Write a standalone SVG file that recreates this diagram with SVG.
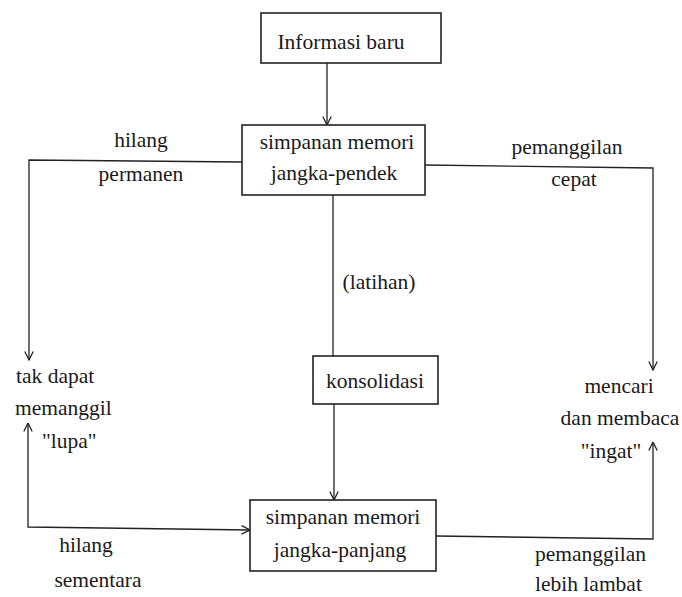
<svg xmlns="http://www.w3.org/2000/svg" width="682" height="597" viewBox="0 0 682 597">
<style>
.t{font-size:21.5px;fill:#1a1a1a}
.c{text-anchor:middle}
.box{fill:#fff;stroke:#222;stroke-width:1.6}
.ln{fill:none;stroke:#222;stroke-width:1.3}
</style>
<defs>
<marker id="arr" viewBox="0 0 10 10" refX="9.5" refY="5" markerWidth="10" markerHeight="10" markerUnits="userSpaceOnUse" orient="auto-start-reverse">
<path d="M1,0.8 L9.5,5 L1,9.2" fill="none" stroke="#222" stroke-width="1.3"/>
</marker>
</defs>
<rect width="682" height="597" fill="#fff"/>
<g id="connectors">
<line class="ln" x1="327" y1="63" x2="327" y2="125" marker-end="url(#arr)"/>
<polyline class="ln" points="242,162 29,160 29,360" marker-end="url(#arr)"/>
<polyline class="ln" points="425,165 653,168 653,370" marker-end="url(#arr)"/>
<line class="ln" x1="333" y1="195" x2="333" y2="356"/>
<line class="ln" x1="334" y1="404" x2="334" y2="500" marker-end="url(#arr)"/>
<polyline class="ln" points="28,423 28,527 250,530" marker-start="url(#arr)" marker-end="url(#arr)"/>
<polyline class="ln" points="436,536 653,539 653,442" marker-end="url(#arr)"/>
</g>
<g font-family="Liberation Serif, DejaVu Serif, serif">
<g id="informasi-baru">
<rect class="box" x="261" y="13" width="180" height="50"/>
<text class="t c" x="341" y="49">Informasi baru</text>
</g>
<g id="stm">
<rect class="box" x="242" y="125" width="183" height="70"/>
<text class="t c" x="337" y="149">simpanan memori</text>
<text class="t c" x="334" y="180">jangka-pendek</text>
</g>
<g id="konsolidasi">
<rect class="box" x="313" y="356" width="125" height="48"/>
<text class="t c" x="375" y="388">konsolidasi</text>
</g>
<g id="ltm">
<rect class="box" x="250" y="500" width="186" height="71"/>
<text class="t c" x="343" y="524">simpanan memori</text>
<text class="t c" x="340" y="557">jangka-panjang</text>
</g>
<g id="lupa">
<text class="t" x="16" y="383">tak dapat</text>
<text class="t" x="15" y="415">memanggil</text>
<text class="t" x="42" y="448">"lupa"</text>
</g>
<g id="ingat">
<text class="t c" x="619" y="393">mencari</text>
<text class="t c" x="620" y="425">dan membaca</text>
<text class="t c" x="611" y="458">"ingat"</text>
</g>
<g id="labels">
<text class="t c" x="141" y="147">hilang</text>
<text class="t c" x="141" y="181">permanen</text>
<text class="t c" x="567" y="154">pemanggilan</text>
<text class="t c" x="574" y="186">cepat</text>
<text class="t c" x="379" y="289">(latihan)</text>
<text class="t c" x="86" y="552">hilang</text>
<text class="t c" x="98" y="587">sementara</text>
<text class="t" x="535" y="561">pemanggilan</text>
<text class="t" x="535" y="591">lebih lambat</text>
</g>
</g>
</svg>
